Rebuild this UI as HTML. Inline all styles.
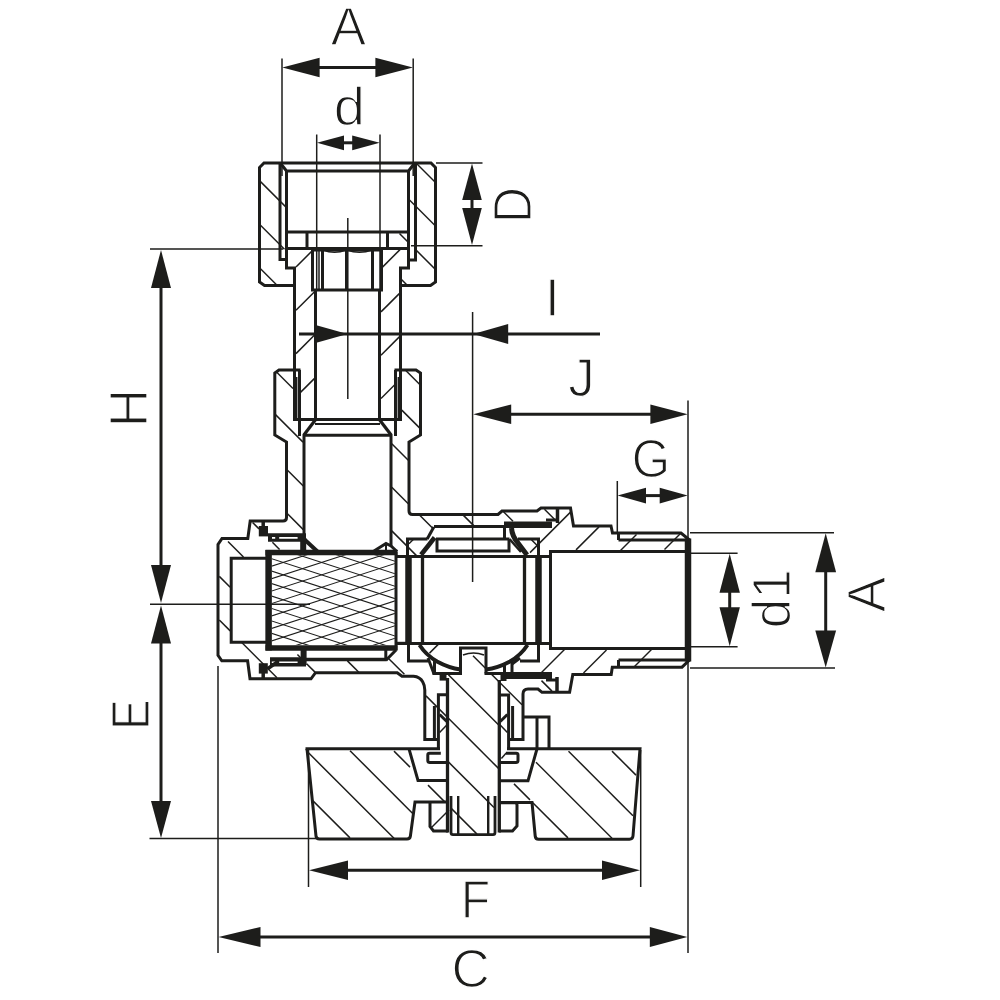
<!DOCTYPE html>
<html><head><meta charset="utf-8"><title>Valve dimensional drawing</title>
<style>
html,body{margin:0;padding:0;background:#fff;}
body{width:1000px;height:1000px;overflow:hidden;}
svg{display:block;}
text{font-family:"Liberation Sans",sans-serif;font-size:53px;fill:#1d1d1b;stroke:#fff;stroke-width:1.3px;paint-order:fill stroke;}
</style></head><body>
<svg width="1000" height="1000" viewBox="0 0 1000 1000">
<defs><clipPath id="meshclip"><rect x="271.8" y="555.3" width="123" height="90"/></clipPath></defs>
<rect width="1000" height="1000" fill="#fff"/>
<g clip-path="url(#meshclip)" stroke="#1d1d1b" stroke-width="1.05" fill="none"><line x1="262" y1="393.71" x2="402" y2="439.07"/><line x1="262" y1="419.89" x2="402" y2="374.53"/><line x1="262" y1="406.16" x2="402" y2="451.52"/><line x1="262" y1="432.34" x2="402" y2="386.98"/><line x1="262" y1="418.61" x2="402" y2="463.97"/><line x1="262" y1="444.79" x2="402" y2="399.43"/><line x1="262" y1="431.06" x2="402" y2="476.42"/><line x1="262" y1="457.24" x2="402" y2="411.88"/><line x1="262" y1="443.51" x2="402" y2="488.87"/><line x1="262" y1="469.69" x2="402" y2="424.33"/><line x1="262" y1="455.96" x2="402" y2="501.32"/><line x1="262" y1="482.14" x2="402" y2="436.78"/><line x1="262" y1="468.41" x2="402" y2="513.77"/><line x1="262" y1="494.59" x2="402" y2="449.23"/><line x1="262" y1="480.86" x2="402" y2="526.22"/><line x1="262" y1="507.04" x2="402" y2="461.68"/><line x1="262" y1="493.31" x2="402" y2="538.67"/><line x1="262" y1="519.49" x2="402" y2="474.13"/><line x1="262" y1="505.76" x2="402" y2="551.12"/><line x1="262" y1="531.94" x2="402" y2="486.58"/><line x1="262" y1="518.21" x2="402" y2="563.57"/><line x1="262" y1="544.39" x2="402" y2="499.03"/><line x1="262" y1="530.66" x2="402" y2="576.02"/><line x1="262" y1="556.84" x2="402" y2="511.48"/><line x1="262" y1="543.11" x2="402" y2="588.47"/><line x1="262" y1="569.29" x2="402" y2="523.93"/><line x1="262" y1="555.56" x2="402" y2="600.92"/><line x1="262" y1="581.74" x2="402" y2="536.38"/><line x1="262" y1="568.01" x2="402" y2="613.37"/><line x1="262" y1="594.19" x2="402" y2="548.83"/><line x1="262" y1="580.46" x2="402" y2="625.82"/><line x1="262" y1="606.64" x2="402" y2="561.28"/><line x1="262" y1="592.91" x2="402" y2="638.27"/><line x1="262" y1="619.09" x2="402" y2="573.73"/><line x1="262" y1="605.36" x2="402" y2="650.72"/><line x1="262" y1="631.54" x2="402" y2="586.18"/><line x1="262" y1="617.81" x2="402" y2="663.17"/><line x1="262" y1="643.99" x2="402" y2="598.63"/><line x1="262" y1="630.26" x2="402" y2="675.62"/><line x1="262" y1="656.44" x2="402" y2="611.08"/><line x1="262" y1="642.71" x2="402" y2="688.07"/><line x1="262" y1="668.89" x2="402" y2="623.53"/><line x1="262" y1="655.16" x2="402" y2="700.52"/><line x1="262" y1="681.34" x2="402" y2="635.98"/><line x1="262" y1="667.61" x2="402" y2="712.97"/><line x1="262" y1="693.79" x2="402" y2="648.43"/><line x1="262" y1="680.06" x2="402" y2="725.42"/><line x1="262" y1="706.24" x2="402" y2="660.88"/><line x1="262" y1="692.51" x2="402" y2="737.87"/><line x1="262" y1="718.69" x2="402" y2="673.33"/><line x1="262" y1="704.96" x2="402" y2="750.32"/><line x1="262" y1="731.14" x2="402" y2="685.78"/><line x1="262" y1="717.41" x2="402" y2="762.77"/><line x1="262" y1="743.59" x2="402" y2="698.23"/><line x1="262" y1="729.86" x2="402" y2="775.22"/><line x1="262" y1="756.04" x2="402" y2="710.68"/><line x1="262" y1="742.31" x2="402" y2="787.67"/><line x1="262" y1="768.49" x2="402" y2="723.13"/><line x1="262" y1="754.76" x2="402" y2="800.12"/><line x1="262" y1="780.94" x2="402" y2="735.58"/><line x1="262" y1="767.21" x2="402" y2="812.57"/><line x1="262" y1="793.39" x2="402" y2="748.03"/><line x1="262" y1="779.66" x2="402" y2="825.02"/><line x1="262" y1="805.84" x2="402" y2="760.48"/><line x1="262" y1="792.11" x2="402" y2="837.47"/><line x1="262" y1="818.29" x2="402" y2="772.93"/><line x1="262" y1="804.56" x2="402" y2="849.92"/><line x1="262" y1="830.74" x2="402" y2="785.38"/></g>
<g fill="none" stroke="#1d1d1b" stroke-linecap="butt" stroke-linejoin="miter">
<path d="M294.5,285.5 L264.5,285.5 L259.5,282 L259.5,167.5 L264,163 L431,163 L435.5,167.5 L435.5,282 L430.5,285.5 L400.5,285.5" stroke-width="3" />
<path d="M280,163 L280,259.5 L286.5,259.5" stroke-width="3" />
<path d="M415.5,163 L415.5,260 L408.5,260" stroke-width="3" />
<path d="M286.5,171 L286.5,268 L294.5,268 L294.5,420" stroke-width="3" />
<path d="M408.5,171 L408.5,268 L400.5,268 L400.5,420" stroke-width="3" />
<path d="M281,164 L286.5,171 L408.5,171 L414,164" stroke-width="3" />
<line x1="286.5" y1="232" x2="408.5" y2="232" stroke-width="3" />
<line x1="286.5" y1="248.5" x2="408.5" y2="248.5" stroke-width="3" />
<line x1="307" y1="232" x2="307" y2="248.5" stroke-width="3" />
<line x1="387.5" y1="232" x2="387.5" y2="248.5" stroke-width="3" />
<path d="M312.5,248.5 L312.5,290 L381.5,290 L381.5,248.5" stroke-width="3" />
<line x1="322.5" y1="249" x2="322.5" y2="290" stroke-width="3" />
<line x1="346.5" y1="249" x2="346.5" y2="290" stroke-width="3" />
<line x1="372.5" y1="249" x2="372.5" y2="290" stroke-width="3" />
<line x1="319" y1="250" x2="319" y2="290" stroke-width="1.5" />
<path d="M323,250 Q334.5,254.5 346,250" stroke-width="1.6" />
<path d="M347,250 Q359.5,254.5 372,250" stroke-width="1.6" />
<line x1="312" y1="249.5" x2="382" y2="249.5" stroke-width="4" />
<line x1="315.5" y1="290" x2="315.5" y2="421" stroke-width="3" />
<line x1="379.5" y1="290" x2="379.5" y2="421" stroke-width="3" />
<line x1="293" y1="419.5" x2="402" y2="419.5" stroke-width="3" />
<line x1="315" y1="424" x2="380" y2="424" stroke-width="1.8" />
<path d="M315.3,420 L303.5,435.5" stroke-width="3.2" />
<path d="M379.7,420 L391.5,435.5" stroke-width="3.2" />
<line x1="303" y1="435.3" x2="392" y2="435.3" stroke-width="3" />
<line x1="296.7" y1="377" x2="296.7" y2="419" stroke-width="1.5" />
<line x1="398.3" y1="377" x2="398.3" y2="419" stroke-width="1.5" />
<path d="M300.5,370 L279,370 L274.8,373 L274.8,435 L286.5,442 L286.5,517.5 Q286.5,521 283,521 L250.2,521 L247.8,538.4 L222,538.4 L218,544.4 L218,655.4 L221.8,660.8 L247.6,660.8 L250,678.8 L311,678.8 L315.5,672.7 L397.2,672.7 L402,676.3 L413.5,676.3 Q420,676.8 422.8,682 Q424.8,685.5 424.8,690 L424.8,739.6 L438.4,739.6" stroke-width="3" />
<line x1="434.4" y1="706" x2="434.4" y2="739.6" stroke-width="3" />
<line x1="299.5" y1="370" x2="299.5" y2="436" stroke-width="3" />
<line x1="395.5" y1="370" x2="395.5" y2="436" stroke-width="3" />
<path d="M394.5,370 L416,370 L420.5,373 L420.5,435 L409,442 L409,511 Q409,514.5 412.5,514.5 L498,514.5 L502,511 L537,511 L541,508 L570.5,508 L573.5,526 L611,526 L612.5,533 L681,533 L689.5,540" stroke-width="3" />
<line x1="304" y1="435" x2="304" y2="548" stroke-width="3" />
<line x1="391" y1="435" x2="391" y2="546" stroke-width="3" />
<path d="M266,558.2 L231.2,558.2 L231.2,642.2 L266,642.2" stroke-width="3" />
<line x1="268.6" y1="550" x2="268.6" y2="650.5" stroke-width="6.5" />
<line x1="265.5" y1="552.6" x2="397.5" y2="552.6" stroke-width="5.5" />
<line x1="265.5" y1="648" x2="397.5" y2="648" stroke-width="5.5" />
<line x1="396" y1="552" x2="396" y2="650" stroke-width="3" />
<path d="M374,551 L386,543.5 L391,546 L397,551.5" stroke-width="3" />
<line x1="386" y1="544" x2="386" y2="551" stroke-width="2" />
<path d="M304.5,539.5 L318,552" stroke-width="4" />
<line x1="303.2" y1="538" x2="303.2" y2="552" stroke-width="6" />
<path d="M258.8,526 H268 V536.4 H258.8 Z" fill="#1d1d1b" stroke="none"/>
<line x1="263.2" y1="520" x2="263.2" y2="527" stroke-width="3.5" />
<path d="M268,533.2 H306 V541.8 H268 Z" fill="#1d1d1b" stroke="none"/>
<path d="M272,537 H275.2 V538.7 H272 Z M279.2,537 H297.6 V538.7 H279.2 Z" fill="#fff" stroke="none"/>
<path d="M258.8,663.2 H267.8 V673.6 H258.8 Z" fill="#1d1d1b" stroke="none"/>
<line x1="263.2" y1="673" x2="263.2" y2="679.5" stroke-width="3.5" />
<path d="M270,657.3 H306 V666.5 H270 Z" fill="#1d1d1b" stroke="none"/>
<path d="M271.8,661.4 H275.6 V663 H271.8 Z M279.2,661.4 H297.6 V663 H279.2 Z" fill="#fff" stroke="none"/>
<path d="M278,661.5 L267.6,668.8" stroke-width="3.5" />
<line x1="303.6" y1="648" x2="303.6" y2="665" stroke-width="6" />
<line x1="304" y1="659.6" x2="386" y2="659.6" stroke-width="3.5" />
<line x1="385.8" y1="648" x2="385.8" y2="660" stroke-width="3" />
<path d="M396,650 L385.8,660.5" stroke-width="3" />
<path d="M396,643.3 L408,643.3" stroke-width="3" />
<line x1="395" y1="556.5" x2="551" y2="556.5" stroke-width="3" />
<line x1="395" y1="643.5" x2="551" y2="643.5" stroke-width="3" />
<line x1="422.5" y1="556.5" x2="422.5" y2="643.5" stroke-width="3.3" />
<line x1="524.5" y1="556.5" x2="524.5" y2="643.5" stroke-width="3.3" />
<line x1="408.5" y1="556" x2="408.5" y2="644" stroke-width="6.5" />
<line x1="538.5" y1="556" x2="538.5" y2="644" stroke-width="6.5" />
<path d="M407.5,556 L407.5,539 L427.5,539" stroke-width="3" />
<path d="M408.5,643.5 L408.5,661 L428,661" stroke-width="3" />
<path d="M538.5,556 L538.5,539 L518,539" stroke-width="3" />
<path d="M538.5,643.5 L538.5,661 L520,661" stroke-width="3" />
<path d="M421,554.8 L429,544.8 L434.6,537.5" stroke-width="4.6" />
<path d="M427.2,539 L433.8,527" stroke-width="3" />
<path d="M511.5,528 Q512,536 518,543 L527,555" stroke-width="5" />
<path d="M509.5,539 L521,552" stroke-width="2.5" />
<path d="M419.5,645 Q426,655 437,661.5 Q449,668 460.5,669.5" stroke-width="4" />
<path d="M527.5,645 Q521,655 510,661.5 Q498,668 486,669.5" stroke-width="4" />
<line x1="434" y1="526.5" x2="504.5" y2="526.5" stroke-width="3" />
<line x1="436" y1="539" x2="509.5" y2="539" stroke-width="3" />
<path d="M437,539 L437,551 L509,551 L509,539" stroke-width="3" />
<line x1="504.5" y1="526.5" x2="504.5" y2="539" stroke-width="3" />
<path d="M504,521.5 H552 V528 H504 Z" fill="#1d1d1b" stroke="none"/>
<path d="M546,520 L557.5,520" stroke-width="3" />
<line x1="557.5" y1="508" x2="557.5" y2="523" stroke-width="3.5" />
<path d="M504,672 H552 V679 H504 Z" fill="#1d1d1b" stroke="none"/>
<path d="M546,680 L557,680" stroke-width="3" />
<line x1="557" y1="677" x2="557" y2="692" stroke-width="3.5" />
<path d="M460.5,673.5 L460.5,648 L486,648 L486,673.5" stroke-width="3" />
<path d="M463,655 Q473.5,651 484,655" stroke-width="1.6" />
<line x1="432.5" y1="673.5" x2="462" y2="673.5" stroke-width="3" />
<line x1="484.5" y1="673.5" x2="505" y2="673.5" stroke-width="3" />
<path d="M428,658 L434,674" stroke-width="3" />
<line x1="434.5" y1="660" x2="434.5" y2="674" stroke-width="3" />
<line x1="504.5" y1="664" x2="504.5" y2="674" stroke-width="3" />
<line x1="512" y1="662" x2="512" y2="674" stroke-width="3" />
<path d="M520,658 L512,664" stroke-width="3" />
<line x1="447.5" y1="678" x2="447.5" y2="832.5" stroke-width="3.3" />
<line x1="499.3" y1="680" x2="499.3" y2="832.5" stroke-width="3.3" />
<path d="M451,796 L451,832.5 Q451,834.6 453,834.6 L493,834.6 Q495,834.6 495,832.5 L495,796" stroke-width="2.8" />
<path d="M439.6,674 H446.5 V680.6 H439.6 Z" fill="#1d1d1b" stroke="none"/>
<path d="M500.5,674 H506.5 V681 H500.5 Z" fill="#1d1d1b" stroke="none"/>
<path d="M447.5,694.8 L438.4,694.8 L438.4,748" stroke-width="3" />
<path d="M499,695 L508.6,695 L508.6,748" stroke-width="3" />
<line x1="512.6" y1="706" x2="512.6" y2="739" stroke-width="3" />
<path d="M439.6,714.5 L446.8,721.5" stroke-width="3" />
<path d="M507.4,714.5 L500.2,721.5" stroke-width="3" />
<path d="M509,739.5 L523,739.5 L523,694 Q523,689 528,689 L538,689 L542,692.3 L569.6,692.3 L572.8,674.4 L611.2,674.4 L612.3,667.2 L682,667.2 L689.5,660" stroke-width="3" />
<path d="M523,717 L549,717 L549,748" stroke-width="3" />
<line x1="537" y1="717" x2="537" y2="748" stroke-width="3" />
<path d="M689,551.5 L550.5,551.5 L550.5,648.5 L689,648.5" stroke-width="3" />
<line x1="688" y1="538.5" x2="688" y2="661.5" stroke-width="6.5" />
<line x1="618.5" y1="540" x2="689" y2="540" stroke-width="3.2" />
<line x1="618.5" y1="660" x2="689" y2="660" stroke-width="3.2" />
<line x1="618.5" y1="533" x2="618.5" y2="540" stroke-width="3" />
<line x1="618.5" y1="660" x2="618.5" y2="667" stroke-width="3" />
<path d="M307,748.8 L316,836 Q316.3,839 319.5,839 L407,839 Q410,839 410.4,836 L415,802 L447,802" stroke-width="3" />
<line x1="305.5" y1="748.8" x2="440" y2="748.8" stroke-width="3" />
<path d="M409,748.8 L418,780.5 L447.5,780.5" stroke-width="3" />
<path d="M507,748.8 L640,748.8 L633,836 Q632.7,839.2 629.5,839.2 L538.5,839.2 Q535.5,839.2 535.2,836 L532,802.4 L499,802.4" stroke-width="3" />
<path d="M537,748.8 L528,780.8 L499,780.8" stroke-width="3" />
<path d="M430,802 L430,826.5 L433.5,831 L448,831" stroke-width="3" />
<path d="M499,802.8 L515,802.8 Q517,802.8 517,805 L517,826 L512.5,831 L499,831" stroke-width="3" />
<line x1="458.2" y1="796" x2="458.2" y2="834" stroke-width="2.4" />
<line x1="488.2" y1="796" x2="488.2" y2="834" stroke-width="2.4" />
<path d="M440.8,753.2 L429.6,753.2 Q427.8,753.2 427.8,755 L427.8,760.5 Q427.8,762.4 429.6,762.4 L447,762.4" stroke-width="3" />
<path d="M506,753.2 L516.2,753.2 Q518,753.2 518,755 L518,760.5 Q518,762.4 516.2,762.4 L499.5,762.4" stroke-width="3" />
<line x1="260.5" y1="181.6" x2="285.5" y2="206.6" stroke-width="1.5" />
<line x1="260.5" y1="225.2" x2="284.5" y2="249.2" stroke-width="1.5" />
<line x1="260.5" y1="268.8" x2="276.5" y2="284.8" stroke-width="1.5" />
<line x1="416.5" y1="163.5" x2="434.5" y2="181.5" stroke-width="1.5" />
<line x1="409.5" y1="200.0" x2="434.5" y2="225.0" stroke-width="1.5" />
<line x1="399.5" y1="233.5" x2="408" y2="242" stroke-width="1.5" />
<line x1="415.5" y1="249.5" x2="434.5" y2="268.5" stroke-width="1.5" />
<line x1="401.5" y1="279.5" x2="406.5" y2="284.5" stroke-width="1.5" />
<line x1="406" y1="370.7" x2="419.8" y2="384.5" stroke-width="1.5" />
<line x1="401.8" y1="410.1" x2="419.8" y2="428.1" stroke-width="1.5" />
<line x1="391.8" y1="443.7" x2="408.3" y2="460.2" stroke-width="1.5" />
<line x1="463" y1="514.9" x2="474" y2="525.9" stroke-width="1.5" />
<line x1="391.8" y1="487.3" x2="408.3" y2="503.8" stroke-width="1.5" />
<line x1="419.5" y1="515.0" x2="433" y2="528.5" stroke-width="1.5" />
<line x1="276.5" y1="372.0" x2="293" y2="388.5" stroke-width="1.5" />
<line x1="275.5" y1="414.6" x2="303" y2="442.1" stroke-width="1.5" />
<line x1="391.8" y1="530.9" x2="417" y2="556.1" stroke-width="1.5" />
<line x1="287.5" y1="470.2" x2="303.3" y2="486.0" stroke-width="1.5" />
<line x1="473" y1="655.7" x2="485.5" y2="668.2" stroke-width="1.5" />
<line x1="491.5" y1="674.2" x2="499" y2="681.7" stroke-width="1.5" />
<line x1="500" y1="682.7" x2="522" y2="704.7" stroke-width="1.5" />
<line x1="287.5" y1="513.8" x2="303.3" y2="529.6" stroke-width="1.5" />
<line x1="448.4" y1="674.7" x2="499" y2="725.3" stroke-width="1.5" />
<line x1="252.6" y1="522.5" x2="259" y2="528.9" stroke-width="1.5" />
<line x1="272.4" y1="542.3" x2="279.6" y2="549.5" stroke-width="1.5" />
<line x1="388.8" y1="658.7" x2="404.4" y2="674.3" stroke-width="1.5" />
<line x1="426" y1="695.9" x2="446.5" y2="716.4" stroke-width="1.5" />
<line x1="448.4" y1="718.3" x2="499" y2="768.9" stroke-width="1.5" />
<line x1="514" y1="783.9" x2="530" y2="799.9" stroke-width="1.5" />
<line x1="532.8" y1="802.6999999999999" x2="568" y2="837.9" stroke-width="1.5" />
<line x1="228" y1="541.5" x2="243.5" y2="557.0" stroke-width="1.5" />
<line x1="347.4" y1="660.9" x2="358.8" y2="672.3" stroke-width="1.5" />
<line x1="448.4" y1="761.9" x2="494" y2="807.5" stroke-width="1.5" />
<line x1="219.3" y1="576.4000000000001" x2="230.2" y2="587.3" stroke-width="1.5" />
<line x1="297.4" y1="654.5" x2="302.4" y2="659.5" stroke-width="1.5" />
<line x1="306.6" y1="663.7" x2="315" y2="672.1" stroke-width="1.5" />
<line x1="394" y1="751.1" x2="410" y2="767.1" stroke-width="1.5" />
<line x1="428" y1="785.1" x2="445" y2="802.1" stroke-width="1.5" />
<line x1="451.5" y1="808.6" x2="477" y2="834.1" stroke-width="1.5" />
<line x1="219.3" y1="620.0" x2="230.2" y2="630.9" stroke-width="1.5" />
<line x1="241.5" y1="642.2" x2="277" y2="677.7" stroke-width="1.5" />
<line x1="350" y1="750.7" x2="412.5" y2="813.2" stroke-width="1.5" />
<line x1="308" y1="752.3" x2="394" y2="838.3" stroke-width="1.5" />
<line x1="312.5" y1="800.4000000000001" x2="350" y2="837.9000000000001" stroke-width="1.5" />
<line x1="612" y1="751.1" x2="636" y2="775.1" stroke-width="1.5" />
<line x1="568.5" y1="751.2" x2="633" y2="815.7" stroke-width="1.5" />
<line x1="536" y1="762.3" x2="612" y2="838.3" stroke-width="1.5" />
<line x1="541.5" y1="680.6" x2="552" y2="691.1" stroke-width="1.5" />
<line x1="503.5" y1="511.8" x2="513" y2="521.3" stroke-width="1.5" />
<line x1="544.5" y1="509.2" x2="554.5" y2="519.2" stroke-width="1.5" />
<line x1="531.5" y1="539.8" x2="537.5" y2="545.8" stroke-width="1.5" />
<line x1="296" y1="267.0" x2="312" y2="251.0" stroke-width="1.5" />
<line x1="296" y1="310.29999999999995" x2="314.3" y2="291.99999999999994" stroke-width="1.5" />
<line x1="296" y1="353.6" x2="314.3" y2="335.3" stroke-width="1.5" />
<line x1="381" y1="268.6" x2="400" y2="249.60000000000002" stroke-width="1.5" />
<line x1="300.5" y1="392.4" x2="314.3" y2="378.59999999999997" stroke-width="1.5" />
<line x1="381" y1="311.9" x2="399.3" y2="293.59999999999997" stroke-width="1.5" />
<line x1="381" y1="355.20000000000005" x2="399.3" y2="336.90000000000003" stroke-width="1.5" />
<line x1="381" y1="398.5" x2="394.5" y2="385.0" stroke-width="1.5" />
<line x1="530" y1="552.5999999999999" x2="571" y2="511.5999999999999" stroke-width="1.5" />
<line x1="576" y1="549.9000000000001" x2="599" y2="526.9000000000001" stroke-width="1.5" />
<line x1="409" y1="543.7" x2="413.5" y2="539.2" stroke-width="1.5" />
<line x1="429.5" y1="653.0999999999999" x2="438.5" y2="644.0999999999999" stroke-width="1.5" />
<line x1="620" y1="551" x2="636.5" y2="534.5" stroke-width="1.5" />
<line x1="664.5" y1="549.5" x2="680.5" y2="533.5" stroke-width="1.5" />
<line x1="541" y1="673" x2="564.5" y2="649.5" stroke-width="1.5" />
<line x1="583.5" y1="673.0" x2="606.5" y2="650.0" stroke-width="1.5" />
<line x1="634.5" y1="666.5" x2="651.5" y2="649.5" stroke-width="1.5" />
<line x1="432" y1="827" x2="449" y2="810" stroke-width="1.5" />
<line x1="439.6" y1="732.4" x2="446.8" y2="725" stroke-width="1.5" />
<line x1="507.4" y1="732.4" x2="500.2" y2="725" stroke-width="1.5" />
<line x1="501.4" y1="758.4" x2="506.2" y2="753" stroke-width="1.5" />
<line x1="282" y1="58.5" x2="282" y2="176" stroke-width="1.5" />
<line x1="413.2" y1="58.5" x2="413.2" y2="176" stroke-width="1.5" />
<line x1="316.7" y1="134.5" x2="316.7" y2="290" stroke-width="1.5" />
<line x1="380" y1="134.5" x2="380" y2="290" stroke-width="1.5" />
<line x1="347.8" y1="218" x2="347.8" y2="399" stroke-width="1.5" />
<line x1="472.6" y1="312" x2="472.6" y2="582" stroke-width="1.5" />
<line x1="150" y1="249" x2="283" y2="249" stroke-width="1.5" />
<line x1="150" y1="604.2" x2="310" y2="604.2" stroke-width="1.5" />
<line x1="149.5" y1="838.4" x2="316" y2="838.4" stroke-width="1.5" />
<line x1="218" y1="666" x2="218" y2="953" stroke-width="1.5" />
<line x1="308.5" y1="750" x2="308.5" y2="887" stroke-width="1.5" />
<line x1="640.7" y1="750" x2="640.7" y2="887" stroke-width="1.5" />
<line x1="688" y1="400.5" x2="688" y2="953" stroke-width="1.5" />
<line x1="617.3" y1="481" x2="617.3" y2="533" stroke-width="1.5" />
<line x1="436" y1="163" x2="482.5" y2="163" stroke-width="1.5" />
<line x1="411" y1="245.7" x2="482.5" y2="245.7" stroke-width="1.5" />
<line x1="690" y1="532.8" x2="834" y2="532.8" stroke-width="1.5" />
<line x1="690" y1="668" x2="835" y2="668" stroke-width="1.5" />
<line x1="690" y1="553.3" x2="737.6" y2="553.3" stroke-width="1.5" />
<line x1="690" y1="646.7" x2="737.6" y2="646.7" stroke-width="1.5" />
<line x1="300" y1="67.5" x2="395" y2="67.5" stroke-width="3" />
<line x1="340" y1="142.8" x2="356" y2="142.8" stroke-width="3" />
<line x1="472" y1="190" x2="472" y2="215" stroke-width="3" />
<line x1="161" y1="270" x2="161" y2="580" stroke-width="3" />
<line x1="161" y1="630" x2="161" y2="815" stroke-width="3" />
<line x1="299" y1="334" x2="600" y2="334" stroke-width="3" />
<line x1="500" y1="414.3" x2="660" y2="414.3" stroke-width="3" />
<line x1="640" y1="495.6" x2="665" y2="495.6" stroke-width="3" />
<line x1="729.7" y1="585" x2="729.7" y2="612" stroke-width="3" />
<line x1="825.7" y1="560" x2="825.7" y2="640" stroke-width="3" />
<line x1="340" y1="870.2" x2="610" y2="870.2" stroke-width="3" />
<line x1="250" y1="937" x2="660" y2="937" stroke-width="3" />
</g>
<path d="M282.3,67.5 L319.6,77.3 L319.6,57.7 Z" fill="#1d1d1b" stroke="none"/>
<path d="M412.9,67.5 L375.4,57.7 L375.4,77.3 Z" fill="#1d1d1b" stroke="none"/>
<path d="M317,142.8 L344.0,150.20000000000002 L344.0,135.4 Z" fill="#1d1d1b" stroke="none"/>
<path d="M379.7,142.8 L352.2,135.4 L352.2,150.20000000000002 Z" fill="#1d1d1b" stroke="none"/>
<path d="M472,163.5 L462.2,200.0 L481.8,200.0 Z" fill="#1d1d1b" stroke="none"/>
<path d="M472,245 L481.8,208.0 L462.2,208.0 Z" fill="#1d1d1b" stroke="none"/>
<path d="M161,250 L151,288 L171,288 Z" fill="#1d1d1b" stroke="none"/>
<path d="M161,603 L171,565 L151,565 Z" fill="#1d1d1b" stroke="none"/>
<path d="M161,605.5 L151,643.5 L171,643.5 Z" fill="#1d1d1b" stroke="none"/>
<path d="M161,838 L171,801 L151,801 Z" fill="#1d1d1b" stroke="none"/>
<path d="M347.5,334 L315.5,325 L315.5,343 Z" fill="#1d1d1b" stroke="none"/>
<path d="M473.2,334 L508.2,344 L508.2,324 Z" fill="#1d1d1b" stroke="none"/>
<path d="M473.2,414.3 L511.2,424.1 L511.2,404.5 Z" fill="#1d1d1b" stroke="none"/>
<path d="M687.7,414.3 L650.4000000000001,404.5 L650.4000000000001,424.1 Z" fill="#1d1d1b" stroke="none"/>
<path d="M617.6,495.6 L646.0,503.40000000000003 L646.0,487.8 Z" fill="#1d1d1b" stroke="none"/>
<path d="M687.7,495.6 L659.7,487.8 L659.7,503.40000000000003 Z" fill="#1d1d1b" stroke="none"/>
<path d="M729.7,553.8 L719.5,592.8 L739.9000000000001,592.8 Z" fill="#1d1d1b" stroke="none"/>
<path d="M729.7,646.2 L739.9000000000001,607.2 L719.5,607.2 Z" fill="#1d1d1b" stroke="none"/>
<path d="M825.7,533.3 L815.3000000000001,572.3 L836.1,572.3 Z" fill="#1d1d1b" stroke="none"/>
<path d="M825.7,667.5 L836.1,630.5 L815.3000000000001,630.5 Z" fill="#1d1d1b" stroke="none"/>
<path d="M309,870.2 L348.0,880.0 L348.0,860.4000000000001 Z" fill="#1d1d1b" stroke="none"/>
<path d="M640,870.2 L602.0,860.4000000000001 L602.0,880.0 Z" fill="#1d1d1b" stroke="none"/>
<path d="M218.5,937 L260.5,947 L260.5,927 Z" fill="#1d1d1b" stroke="none"/>
<path d="M687.3,937 L649.8,927.0 L649.8,947.0 Z" fill="#1d1d1b" stroke="none"/>
<g><text x="0" y="0" text-anchor="middle" transform="translate(348.4 44.8)">A</text><text x="0" y="0" text-anchor="middle" transform="translate(349.4 124.5) scale(1.04 1)" style="font-size:54px">d</text><text x="0" y="0" text-anchor="middle" transform="translate(552.4 315.8)">I</text><text x="0" y="0" text-anchor="middle" transform="translate(581.5 396)">J</text><text x="0" y="0" text-anchor="middle" transform="translate(651 477.3) scale(0.93 1)">G</text><text x="0" y="0" text-anchor="middle" transform="translate(475.6 917.7) scale(0.9 1)">F</text><text x="0" y="0" text-anchor="middle" transform="translate(470.6 987.2)">C</text><text x="0" y="0" text-anchor="middle" transform="translate(530.8 205) rotate(-90) scale(0.94 1)">D</text><text x="0" y="0" text-anchor="middle" transform="translate(147 408) rotate(-90)">H</text><text x="0" y="0" text-anchor="middle" transform="translate(149 714.5) rotate(-90) scale(0.86 1)">E</text><text x="0" y="0" text-anchor="middle" transform="translate(790.4 598.8) rotate(-90)">d1</text><text x="0" y="0" text-anchor="middle" transform="translate(884.7 594.6) rotate(-90)">A</text></g>
</svg>
</body></html>
